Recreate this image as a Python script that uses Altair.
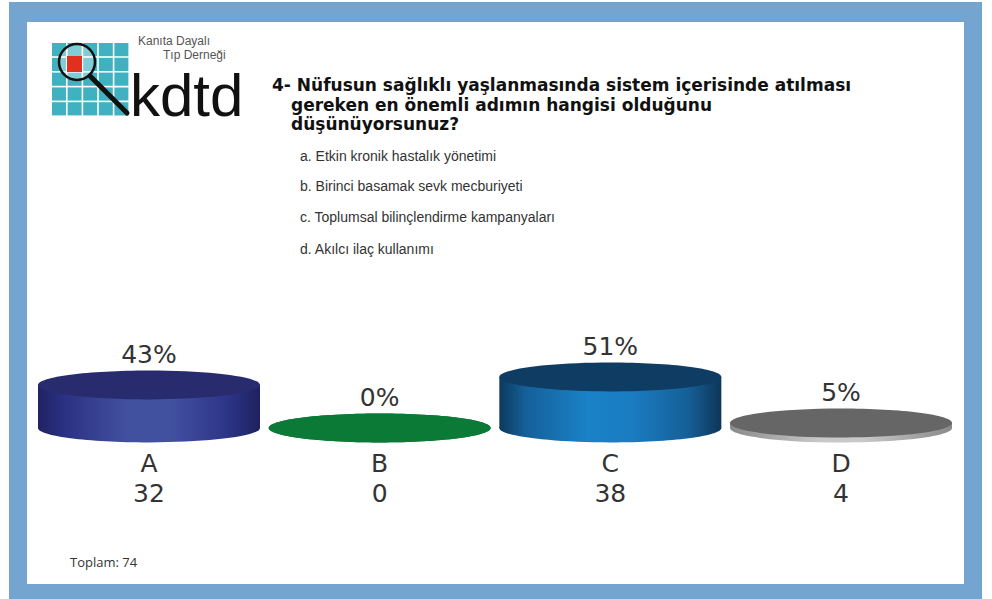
import altair as alt
import pandas as pd

# ---------------- data ----------------
categories = ["A", "B", "C", "D"]
counts = [32, 0, 38, 4]
percents = [43, 0, 51, 5]
pct_labels = ["43%", "0%", "51%", "5%"]
total_label = "Toplam: 74"

question_lines = [
    "4- Nüfusun sağlıklı yaşlanmasında sistem içerisinde atılması",
    "gereken en önemli adımın hangisi olduğunu",
    "düşünüyorsunuz?",
]
options = [
    "a. Etkin kronik hastalık yönetimi",
    "b. Birinci basamak sevk mecburiyeti",
    "c. Toplumsal bilinçlendirme kampanyaları",
    "d. Akılcı ilaç kullanımı",
]

top_colors = ["#282b6e", "#0b7a36", "#0e3c62", "#666666"]
body_stops = [
    [(0, "#1f2264"), (0.12, "#2b3183"), (0.4, "#4250a0"), (0.6, "#4250a0"), (0.85, "#2d3589"), (1, "#1e2160")],
    [(0, "#0b7a36"), (1, "#0b7a36")],
    [(0, "#0d3a5e"), (0.12, "#15609a"), (0.4, "#1a82c8"), (0.6, "#1a7cc0"), (0.85, "#155f98"), (1, "#0d3658")],
    [(0, "#8a8a8a"), (0.4, "#c8c8c8"), (0.6, "#c8c8c8"), (1, "#8a8a8a")],
]

df = pd.DataFrame({"cat": categories, "pct": percents, "count": counts,
                   "label": pct_labels, "base": [0] * len(categories)})

W, H = 992, 599
RX = 222          # cylinder width in px
K = 0.13          # ellipse ry / rx
KA = 0.5523
ELL = (f"M-1,0 C-1,{-K*KA:.4f} {-KA},{-K} 0,{-K} C{KA},{-K} 1,{-K*KA:.4f} 1,0 "
       f"C1,{K*KA:.4f} {KA},{K} 0,{K} C{-KA},{K} -1,{K*KA:.4f} -1,0 Z")

xs = alt.Scale(type="point", domain=categories, range=[149, 841], padding=0)
ys = alt.Scale(domain=[-171, 428], nice=False, zero=False)
X = alt.X("cat:N", scale=xs, axis=None)


def hgrad(stops):
    return alt.Gradient(gradient="linear",
                        stops=[alt.GradientStop(offset=o, color=c) for o, c in stops],
                        x1=0, x2=1, y1=0, y2=0)


layers = []

# frame
layers.append(alt.Chart().mark_rect(color="#73a5d0").encode(
    x=alt.value(9), x2=alt.value(982), y=alt.value(2), y2=alt.value(H)))
layers.append(alt.Chart().mark_rect(color="#ffffff").encode(
    x=alt.value(27), x2=alt.value(964), y=alt.value(22), y2=alt.value(584)))

# logo grid
cells = []
for i in range(5):
    for j in range(5):
        x0 = 52 + i * 15.6
        y0 = 43 + j * 14.8
        cells.append({"x": x0, "x2": x0 + 14, "y": y0, "y2": y0 + 13.2})
grid = pd.DataFrame(cells)
layers.append(alt.Chart(grid).mark_rect(color="#3fb1c0").encode(
    x=alt.X("x:Q", scale=None), x2="x2:Q",
    y=alt.Y("y:Q", scale=None), y2="y2:Q"))
# lens
layers.append(alt.Chart().mark_point(shape="circle", size=36 ** 2, filled=True,
                                     color="#ffffff", opacity=0.35).encode(
    x=alt.value(77), y=alt.value(62)))
layers.append(alt.Chart().mark_rect(color="#e2301f").encode(
    x=alt.value(67), x2=alt.value(82), y=alt.value(56), y2=alt.value(72)))
layers.append(alt.Chart().mark_point(shape="circle", size=36 ** 2, filled=False,
                                     color="#111111", strokeWidth=2.5, opacity=1).encode(
    x=alt.value(77), y=alt.value(62)))
layers.append(alt.Chart().mark_rule(color="#111111", strokeWidth=5, strokeCap="round").encode(
    x=alt.value(90), y=alt.value(76), x2=alt.value(127), y2=alt.value(113)))
layers.append(alt.Chart().mark_text(text="kdtd", font="Liberation Sans", fontSize=60,
                                    color="#111111", align="left", baseline="alphabetic").encode(
    x=alt.value(130), y=alt.value(116)))
layers.append(alt.Chart().mark_text(text="Kanıta Dayalı", font="Liberation Sans", fontSize=12,
                                    color="#555555", align="left", baseline="alphabetic").encode(
    x=alt.value(138), y=alt.value(45)))
layers.append(alt.Chart().mark_text(text="Tıp Derneği", font="Liberation Sans", fontSize=12,
                                    color="#555555", align="left", baseline="alphabetic").encode(
    x=alt.value(163), y=alt.value(59)))

# question
q_pos = [(272, 91), (291, 110.5), (291, 130)]
for line, (qx, qy) in zip(question_lines, q_pos):
    layers.append(alt.Chart().mark_text(text=line, font="DejaVu Sans", fontSize=17,
                                        fontWeight="bold", color="#111111", align="left",
                                        baseline="alphabetic").encode(
        x=alt.value(qx), y=alt.value(qy)))
o_pos = [161, 191, 222, 254]
for line, oy in zip(options, o_pos):
    layers.append(alt.Chart().mark_text(text=line, font="Liberation Sans", fontSize=14,
                                        color="#333333", align="left",
                                        baseline="alphabetic").encode(
        x=alt.value(300), y=alt.value(oy)))

# cylinders
for c, tcol, stops in zip(categories, top_colors, body_stops):
    g = hgrad(stops)
    sub = alt.Chart(df).transform_filter(alt.datum.cat == c)
    layers.append(sub.mark_point(shape=ELL, size=RX ** 2, filled=True, fill=g,
                                 strokeWidth=0, opacity=1).encode(
        x=X, y=alt.Y("base:Q", scale=ys, axis=None)))
    layers.append(sub.mark_bar(size=RX, fill=g, strokeWidth=0).encode(
        x=X, y=alt.Y("pct:Q", scale=ys, axis=None), y2="base:Q"))
    layers.append(sub.mark_point(shape=ELL, size=RX ** 2, filled=True, fill=tcol,
                                 strokeWidth=0, opacity=1).encode(
        x=X, y=alt.Y("pct:Q", scale=ys, axis=None)))

# labels
layers.append(alt.Chart(df).mark_text(font="DejaVu Sans", fontSize=25, color="#333333",
                                      baseline="alphabetic", dy=-22).encode(
    x=X, y=alt.Y("pct:Q", scale=ys, axis=None), text="label:N"))
layers.append(alt.Chart(df).mark_text(font="DejaVu Sans", fontSize=25, color="#333333",
                                      baseline="alphabetic", dy=44).encode(
    x=X, y=alt.Y("base:Q", scale=ys, axis=None), text="cat:N"))
layers.append(alt.Chart(df).mark_text(font="DejaVu Sans", fontSize=25, color="#333333",
                                      baseline="alphabetic", dy=74).encode(
    x=X, y=alt.Y("base:Q", scale=ys, axis=None), text="count:Q"))

layers.append(alt.Chart().mark_text(text=total_label, font="Open Sans", fontSize=13,
                                    color="#333333", align="left", baseline="middle").encode(
    x=alt.value(70), y=alt.value(563)))

chart = alt.layer(*layers).resolve_scale(x="independent", y="independent").properties(
    width=W, height=H, padding=0, background="#ffffff"
).configure_view(strokeWidth=0)

chart.save("out.html", embed_options={"renderer": "svg", "actions": False})
